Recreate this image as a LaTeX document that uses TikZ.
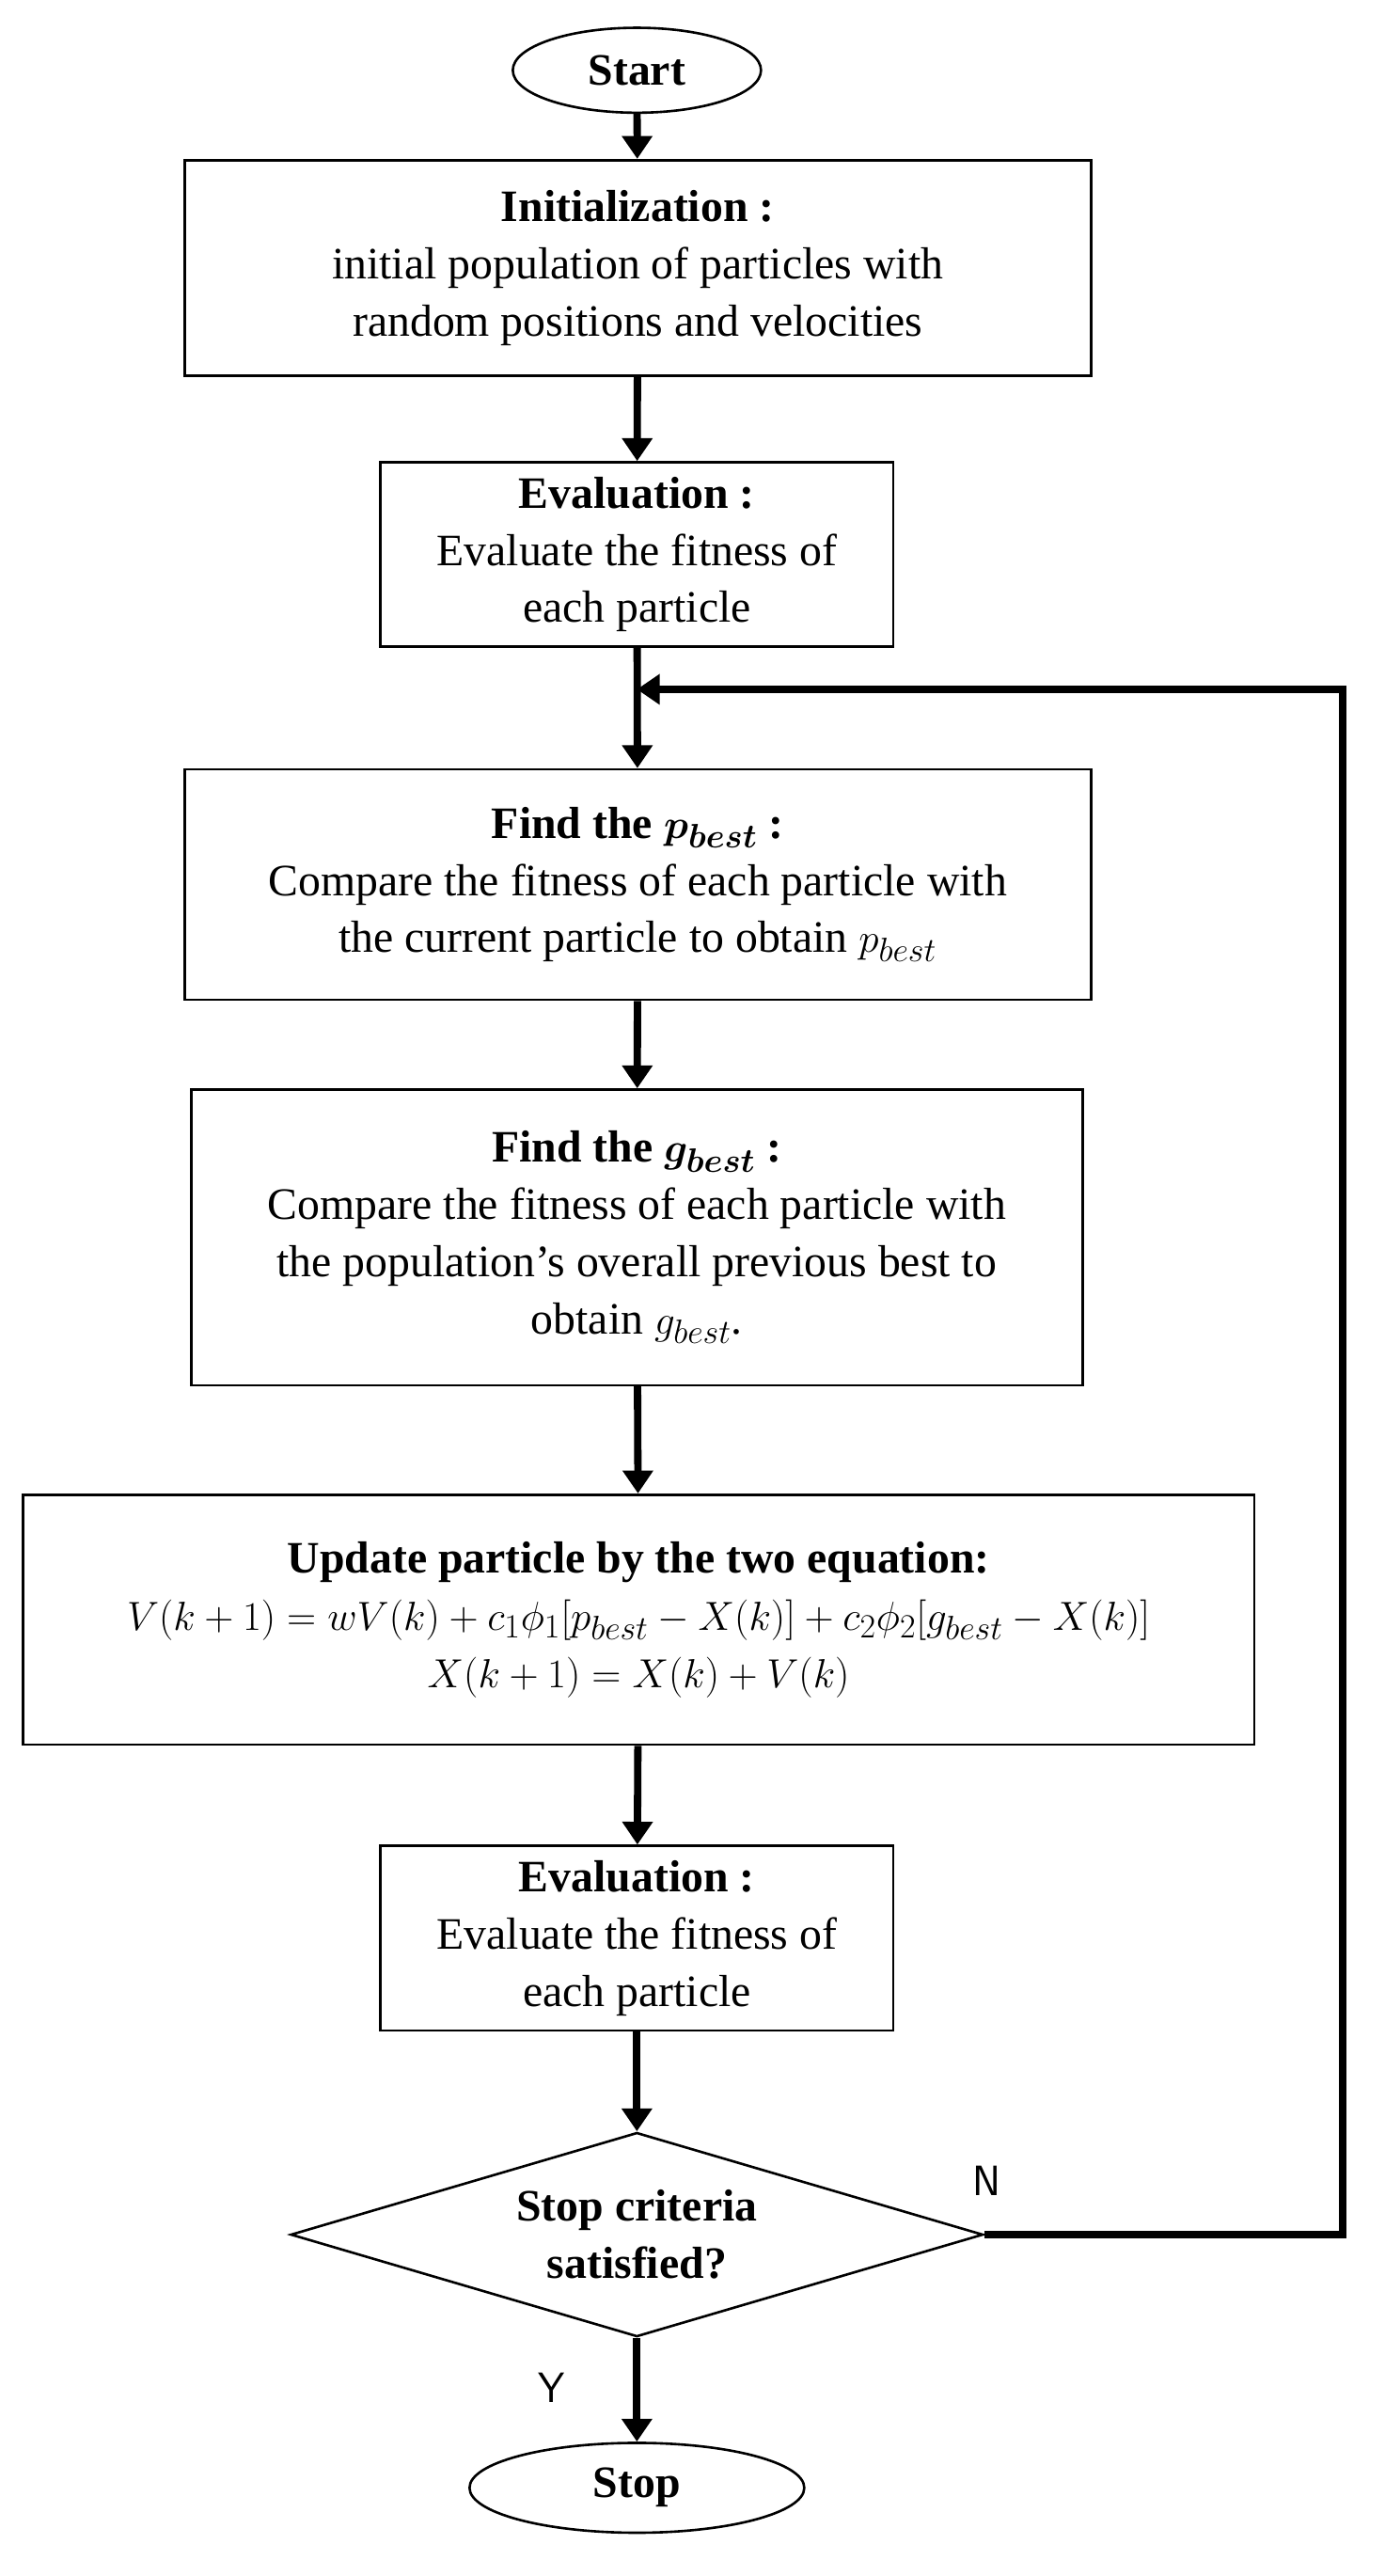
\documentclass[tikz,border=0pt]{standalone}
\usepackage{amsmath,bm}
\usepackage{fontspec}
\setmainfont{Liberation Serif}
\usetikzlibrary{shapes.geometric,arrows.meta}
\begin{document}
\begin{tikzpicture}[x=1pt,y=-1pt,
  box/.style={draw,line width=1.5pt,align=center,font=\fontsize{27.5}{35}\selectfont,inner sep=0pt},
  arr/.style={line width=4.5pt,-{Triangle[length=14pt,width=18pt]}},
  lbl/.style={font=\fontsize{26}{30}\selectfont\sffamily}]
\useasboundingbox (0,0) rectangle (848,1577);
\node[box,ellipse,minimum width=152pt,minimum height=52pt] (start) at (390,43) {\textbf{Start}};
\node[box,minimum width=555pt,minimum height=132pt] (init) at (390.5,164) {\textbf{Initialization :}\\initial population of particles with\\random positions and velocities};
\node[box,minimum width=314pt,minimum height=113pt] (ev1) at (390,339.5) {\textbf{Evaluation :}\\Evaluate the fitness of\\each particle};
\node[box,minimum width=555pt,minimum height=141pt] (pb) at (390.5,541.5) {\textbf{Find the $\bm{p_{best}}$ :}\\Compare the fitness of each particle with\\the current particle to obtain $p_{best}$};
\node[box,minimum width=546pt,minimum height=181pt] (gb) at (390,757.5) {\textbf{Find the $\bm{g_{best}}$ :}\\Compare the fitness of each particle with\\the population's overall previous best to\\obtain $g_{best}$.};
\node[box,minimum width=754pt,minimum height=153pt] (up) at (391,991.5) {\textbf{Update particle by the two equation:}\\$V(k+1)=wV(k)+c_1\phi_1[p_{best}-X(k)]+c_2\phi_2[g_{best}-X(k)]$\\$X(k+1)=X(k)+V(k)$};
\node[box,minimum width=314pt,minimum height=113pt] (ev2) at (390,1186.5) {\textbf{Evaluation :}\\Evaluate the fitness of\\each particle};
\node[box,diamond,aspect=3.4,minimum width=424pt,minimum height=125pt] (dec) at (390,1368) {\textbf{Stop criteria}\\\textbf{satisfied?}};
\node[box,ellipse,minimum width=205pt,minimum height=55pt] (stop) at (390,1523) {\textbf{Stop}};
\coordinate (corner1) at (822,1368);
\coordinate (corner2) at (822,422);
\coordinate (join) at (390,422);
\draw[arr] (start) -- (init);
\draw[arr] (init) -- (ev1);
\draw[arr] (ev1) -- (pb);
\draw[arr] (pb) -- (gb);
\draw[arr] (gb) -- (up);
\draw[arr] (up) -- (ev2);
\draw[arr] (ev2) -- (dec);
\draw[arr] (dec) -- (stop);
\draw[arr] (dec.east) -- (corner1) -- (corner2) -- (join);
\node[lbl] (n) at (604,1335) {N};
\node[lbl] (y) at (338,1462) {Y};
\end{tikzpicture}
\end{document}
